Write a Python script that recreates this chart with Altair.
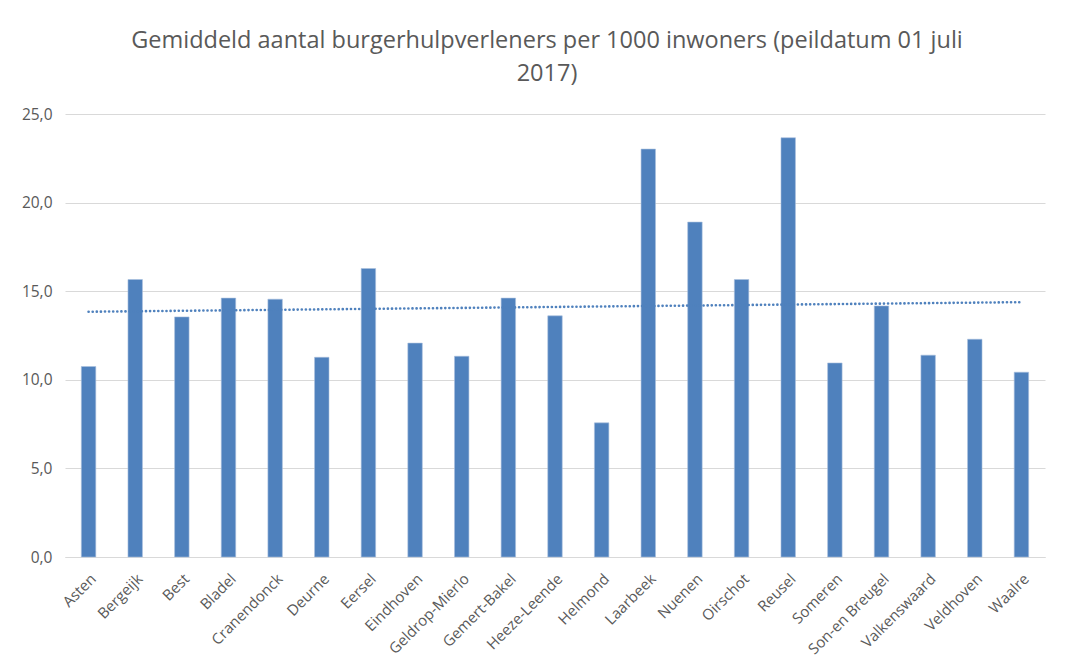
import altair as alt
import pandas as pd

gemeenten = ["Asten", "Bergeijk", "Best", "Bladel", "Cranendonck", "Deurne", "Eersel",
             "Eindhoven", "Geldrop-Mierlo", "Gemert-Bakel", "Heeze-Leende", "Helmond",
             "Laarbeek", "Nuenen", "Oirschot", "Reusel", "Someren", "Son-en Breugel",
             "Valkenswaard", "Veldhoven", "Waalre"]
waarden = [10.75, 15.66, 13.55, 14.61, 14.55, 11.27, 16.28, 12.07, 11.33, 14.61,
           13.61, 7.57, 23.02, 18.90, 15.66, 23.66, 10.95, 14.17, 11.39, 12.29, 10.43]

df = pd.DataFrame({"gemeente": gemeenten, "waarde": waarden, "idx": list(range(len(gemeenten)))})

BLUE = "#4F81BD"
GREY_TEXT = "#595959"
FONT = "Open Sans"

yscale = alt.Scale(domain=[0, 25], nice=False, zero=True)

x = alt.X("gemeente:N", sort=gemeenten, title=None,
          scale=alt.Scale(paddingInner=0.69, paddingOuter=0.35),
          axis=alt.Axis(labelAngle=-45, labelAlign="right", labelBaseline="top",
                        labelColor=GREY_TEXT, labelFontSize=15, labelFont=FONT,
                        ticks=False, domain=True, domainColor="#D9D9D9", labelPadding=14))

bars = alt.Chart(df).mark_bar(color=BLUE, stroke="#A9C0DE", strokeWidth=0.6).encode(
    x=x,
    y=alt.Y("waarde:Q", title=None, scale=yscale,
            axis=alt.Axis(values=[0, 5, 10, 15, 20, 25],
                          labelExpr="replace(format(datum.value, '.1f'), '.', ',')",
                          labelColor=GREY_TEXT, labelFontSize=15.5, labelFont=FONT,
                          ticks=False, domain=False, grid=True, gridColor="#D9D9D9",
                          labelPadding=13))
)

trend = alt.Chart(df).transform_regression("idx", "waarde", method="linear").transform_lookup(
    lookup="idx", from_=alt.LookupData(df, "idx", ["gemeente"])
).mark_line(color=BLUE, strokeWidth=2.6, strokeDash=[0.1, 4], strokeCap="round").encode(
    x=alt.X("gemeente:N", sort=gemeenten),
    y=alt.Y("waarde:Q", scale=yscale)
)

chart = alt.layer(bars, trend).properties(
    width=980, height=443,
    autosize=alt.AutoSizeParams(type="none"),
    padding={"left": 57, "top": 106, "right": 20, "bottom": 100},
    title=alt.Title(["Gemiddeld aantal burgerhulpverleners per 1000 inwoners (peildatum 01 juli", "2017)"],
                    font=FONT, fontSize=23.5, fontWeight="normal", color=GREY_TEXT,
                    anchor="middle", offset=22, lineHeight=33, dx=-8)
).configure(background="white").configure_view(strokeWidth=0, stroke="transparent")

chart.save("out.html", embed_options={"renderer": "svg", "actions": False})
